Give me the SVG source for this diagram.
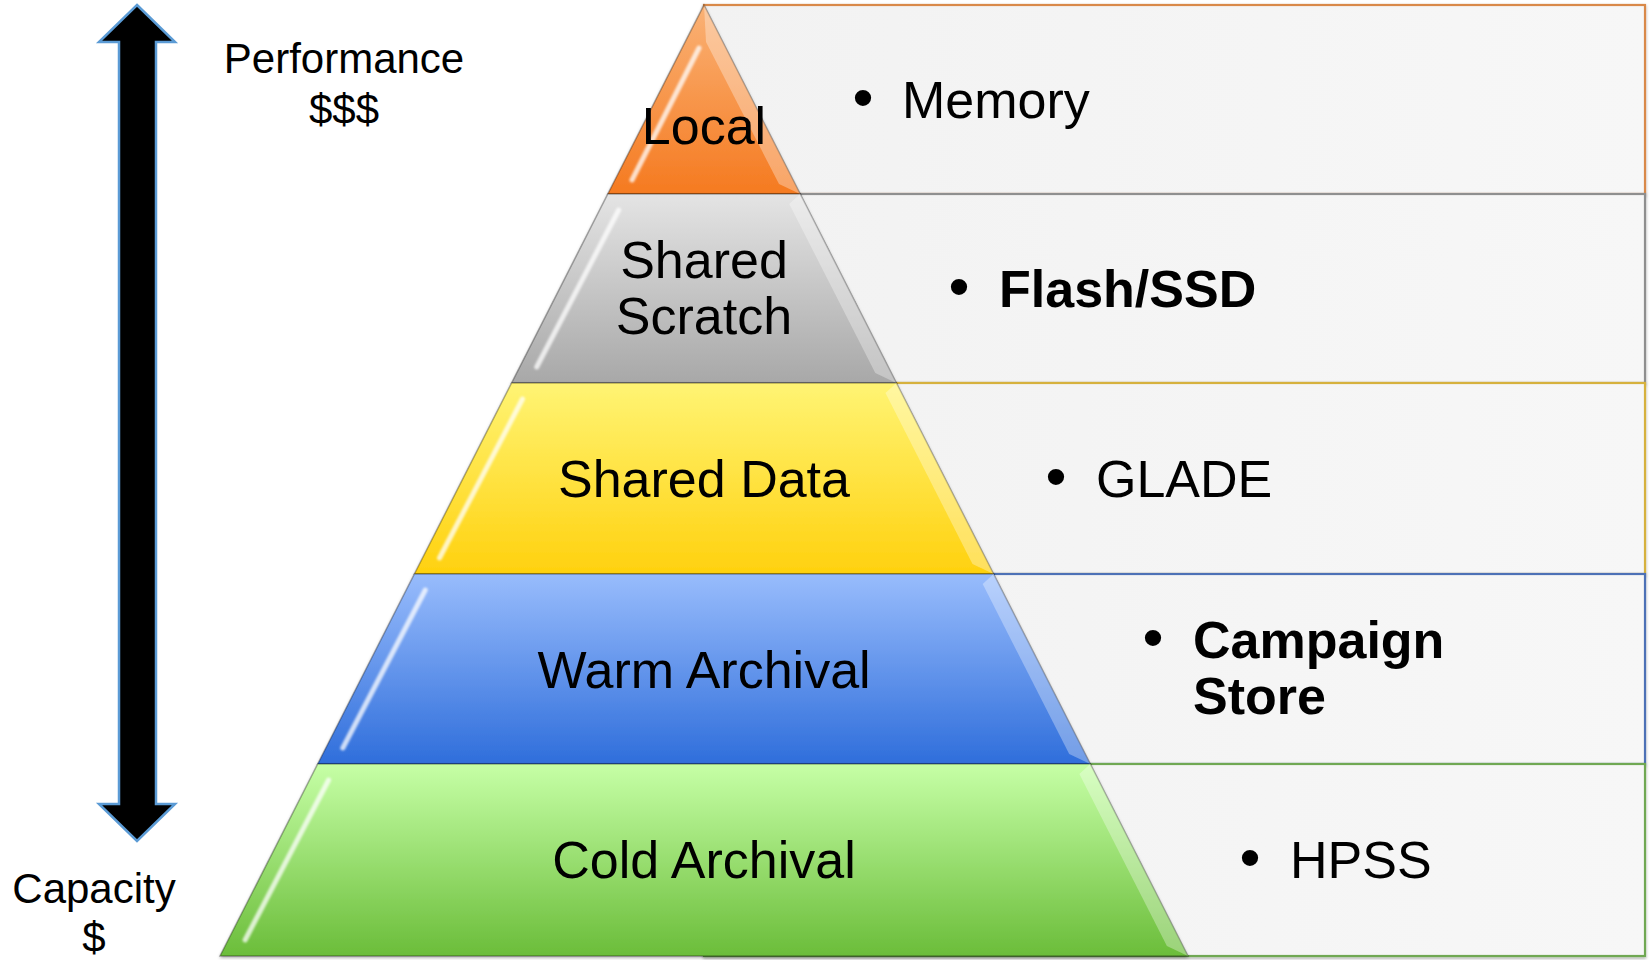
<svg xmlns="http://www.w3.org/2000/svg" width="1651" height="960" viewBox="0 0 1651 960">
  <defs>
    <linearGradient id="gOrange" x1="0" y1="0" x2="0" y2="1">
      <stop offset="0" stop-color="#fab276"/>
      <stop offset="1" stop-color="#f57a20"/>
    </linearGradient>
    <linearGradient id="gGray" x1="0" y1="0" x2="0" y2="1">
      <stop offset="0" stop-color="#e4e4e4"/>
      <stop offset="1" stop-color="#a8a8a8"/>
    </linearGradient>
    <linearGradient id="gYellow" x1="0" y1="0" x2="0" y2="1">
      <stop offset="0" stop-color="#fff474"/>
      <stop offset="1" stop-color="#ffd10e"/>
    </linearGradient>
    <linearGradient id="gBlue" x1="0" y1="0" x2="0" y2="1">
      <stop offset="0" stop-color="#98bcfc"/>
      <stop offset="1" stop-color="#2f6edb"/>
    </linearGradient>
    <linearGradient id="gGreen" x1="0" y1="0" x2="0" y2="1">
      <stop offset="0" stop-color="#c6ffa6"/>
      <stop offset="1" stop-color="#6bbd3a"/>
    </linearGradient>
    <linearGradient id="gBox" x1="0" y1="0" x2="1" y2="0">
      <stop offset="0" stop-color="#f2f2f2"/>
      <stop offset="1" stop-color="#f7f7f7"/>
    </linearGradient>
    <filter id="shadow" x="-5%" y="-5%" width="110%" height="110%">
      <feDropShadow dx="0" dy="1.5" stdDeviation="1.5" flood-color="#000" flood-opacity="0.35"/>
    </filter>
    <filter id="soft" x="-20%" y="-5%" width="140%" height="110%">
      <feGaussianBlur stdDeviation="1.2"/>
    </filter>
  </defs>
  <style>
    .lbl { font-family: "Liberation Sans", Arial, sans-serif; font-size: 52px; fill: #000; text-anchor: middle; }
    .item { font-family: "Liberation Sans", Arial, sans-serif; font-size: 52px; fill: #000; }
    .bold { font-weight: bold; }
    .bul { font-family: "Liberation Sans", Arial, sans-serif; font-size: 60px; fill: #000; text-anchor: middle; }
    .axis { font-family: "Liberation Sans", Arial, sans-serif; font-size: 42px; fill: #000; text-anchor: middle; }
    .box { fill: url(#gBox); stroke-width: 2.2; filter: url(#shadow); }
    .band { stroke: #000; stroke-opacity: 0.3; stroke-width: 1.5; filter: url(#shadow); }
    .hl { stroke: #fff; stroke-width: 5; stroke-linecap: round; stroke-opacity: 0.75; fill: none; filter: url(#soft); }
    .bevel { fill: #fff; fill-opacity: 0.32; }
  </style>

  <rect x="0" y="0" width="1651" height="960" fill="#ffffff"/>

  <!-- list boxes behind the pyramid -->
  <g id="box-memory">
    <rect class="box" x="704" y="5" width="941" height="189" stroke="#d9894a"/>
  </g>
  <g id="box-flash">
    <rect class="box" x="704" y="194" width="941" height="189" stroke="#8f8f8f"/>
  </g>
  <g id="box-glade">
    <rect class="box" x="704" y="383" width="941" height="191" stroke="#d6b13c"/>
  </g>
  <g id="box-campaign">
    <rect class="box" x="704" y="574" width="941" height="190" stroke="#4d71b6"/>
  </g>
  <g id="box-hpss">
    <rect class="box" x="704" y="764" width="941" height="192" stroke="#70a853"/>
  </g>

  <!-- pyramid bands -->
  <g id="band-local">
    <polygon class="band" points="704,5 800.2,194 607.8,194" fill="url(#gOrange)"/>
    <polygon class="bevel" points="704,5 800.2,194 779,184 706,42"/>
    <line class="hl" x1="699" y1="48" x2="632" y2="180"/>
    <text class="lbl" x="704" y="144">Local</text>
  </g>
  <g id="band-shared-scratch">
    <polygon class="band" points="607.8,194 800.2,194 896.4,383 511.6,383" fill="url(#gGray)"/>
    <polygon class="bevel" points="800.2,194 896.4,383 875.3,373 789.3,204"/>
    <line class="hl" x1="618.7" y1="210" x2="536.7" y2="367"/>
    <text class="lbl" x="704" y="278">Shared</text>
    <text class="lbl" x="704" y="334">Scratch</text>
  </g>
  <g id="band-shared-data">
    <polygon class="band" points="511.6,383 896.4,383 993.6,574 414.4,574" fill="url(#gYellow)"/>
    <polygon class="bevel" points="896.4,383 993.6,574 972.5,564 885.5,393"/>
    <line class="hl" x1="522.5" y1="399" x2="439.5" y2="558"/>
    <text class="lbl" x="704" y="497">Shared Data</text>
  </g>
  <g id="band-warm-archival">
    <polygon class="band" points="414.4,574 993.6,574 1090.3,764 317.7,764" fill="url(#gBlue)"/>
    <polygon class="bevel" points="993.6,574 1090.3,764 1069.2,754 982.7,584"/>
    <line class="hl" x1="425.3" y1="590" x2="342.8" y2="748"/>
    <text class="lbl" x="704" y="688">Warm Archival</text>
  </g>
  <g id="band-cold-archival">
    <polygon class="band" points="317.7,764 1090.3,764 1188,956 220,956" fill="url(#gGreen)"/>
    <polygon class="bevel" points="1090.3,764 1188,956 1166.9,946 1079.4,774"/>
    <line class="hl" x1="328.6" y1="780" x2="245.1" y2="940"/>
    <text class="lbl" x="704" y="878">Cold Archival</text>
  </g>

  <!-- list items -->
  <g id="item-memory">
    <text class="bul" x="863" y="118">•</text>
    <text class="item" x="902" y="118">Memory</text>
  </g>
  <g id="item-flash">
    <text class="bul" x="959" y="307">•</text>
    <text class="item bold" x="999" y="307">Flash/SSD</text>
  </g>
  <g id="item-glade">
    <text class="bul" x="1056" y="497">•</text>
    <text class="item" x="1096" y="497">GLADE</text>
  </g>
  <g id="item-campaign">
    <text class="bul" x="1153" y="658">•</text>
    <text class="item bold" x="1193" y="658">Campaign</text>
    <text class="item bold" x="1193" y="714">Store</text>
  </g>
  <g id="item-hpss">
    <text class="bul" x="1250" y="878">•</text>
    <text class="item" x="1290" y="878">HPSS</text>
  </g>

  <!-- axis arrow -->
  <g id="connectors">
    <path d="M137,5 L175,42 L156,42 L156,804 L175,804 L137,841 L99,804 L119,804 L119,42 L99,42 Z" fill="#000" stroke="#5b9bd5" stroke-width="2.5" stroke-linejoin="miter"/>
  </g>

  <g id="label-performance">
    <text class="axis" x="344" y="73">Performance</text>
    <text class="axis" x="344" y="124">$$$</text>
  </g>
  <g id="label-capacity">
    <text class="axis" x="94" y="903">Capacity</text>
    <text class="axis" x="94" y="952">$</text>
  </g>
</svg>
